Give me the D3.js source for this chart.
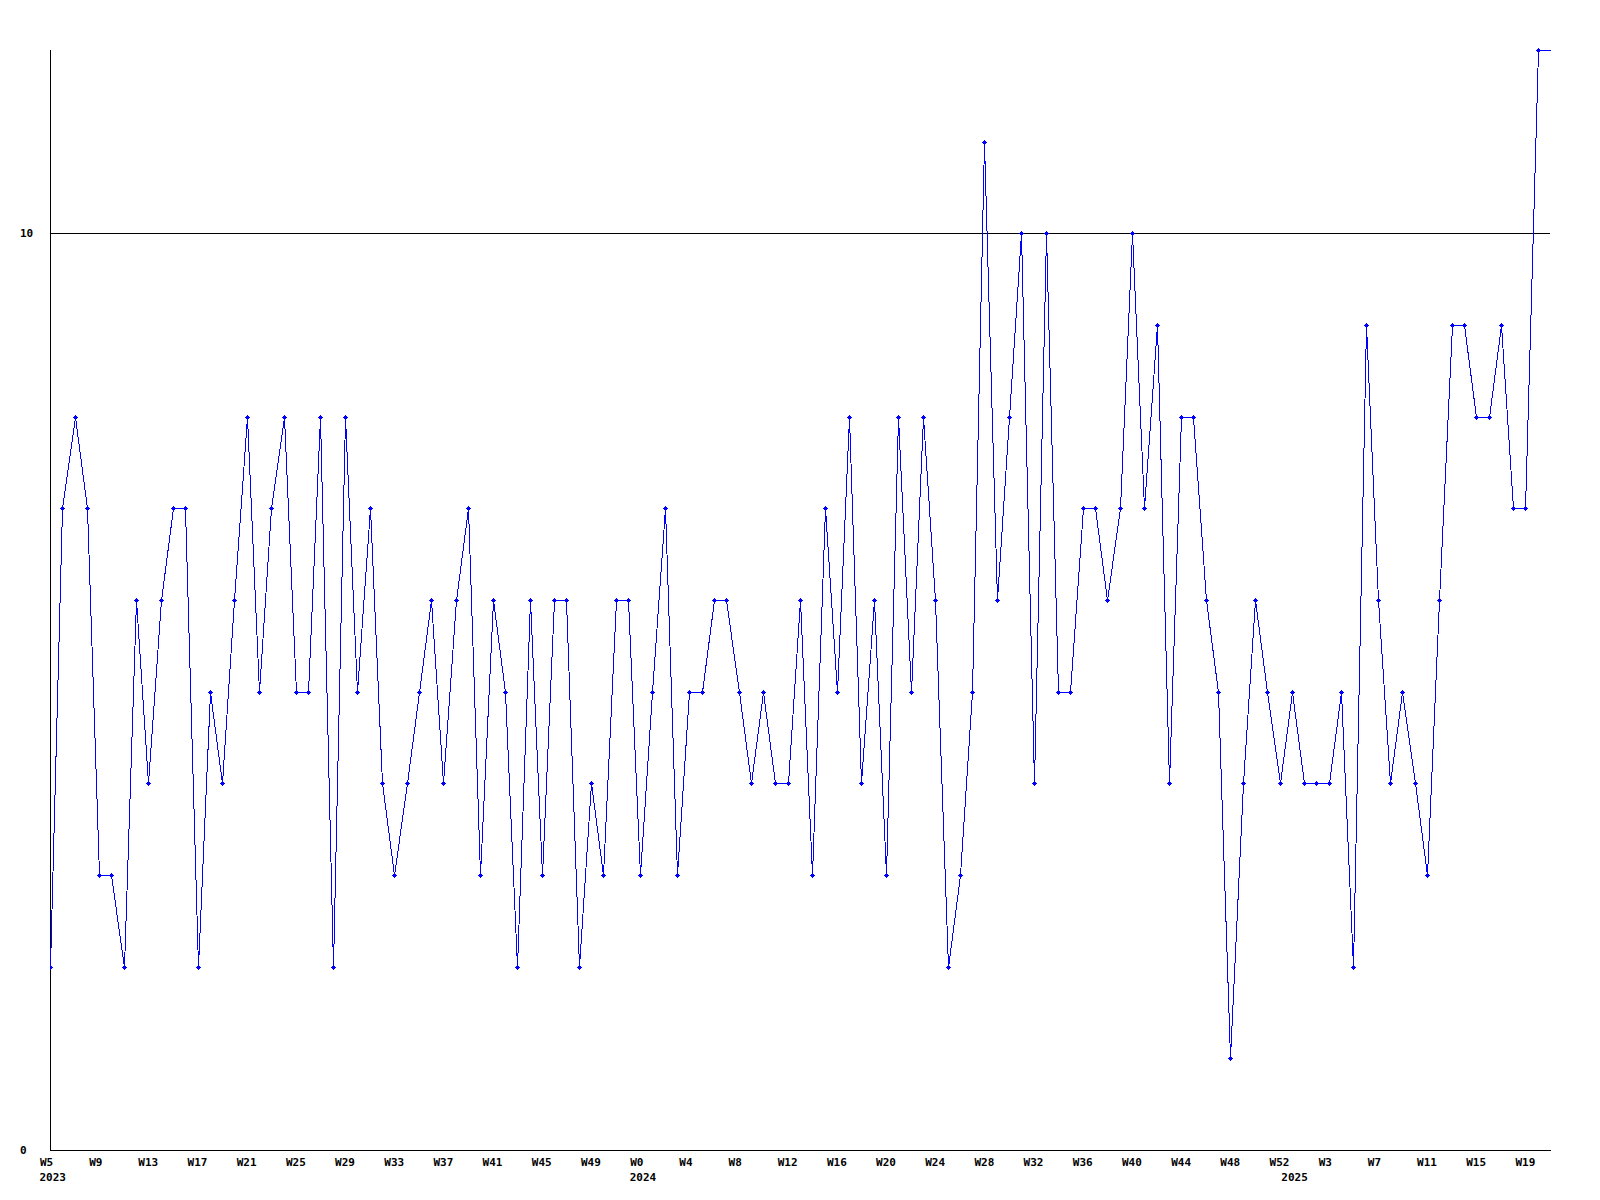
<!DOCTYPE html>
<html>
<head>
<meta charset="utf-8">
<script src="https://cdn.jsdelivr.net/npm/d3@7"></script>
<style>
  html, body { margin: 0; padding: 0; background: #ffffff; }
  svg { display: block; }
  text { font-family: "DejaVu Sans Mono", "Liberation Mono", monospace; font-weight: bold; font-size: 11px; fill: #000; }
</style>
</head>
<body>
<svg id="chart" width="1600" height="1200"></svg>
<script>
// ---- data ----
const years = [2023, 2024, 2025];
const weeks2023 = d3.range(5, 53);   // W5 .. W52
const weeks2024 = d3.range(0, 53);   // W0 .. W52
const weeks2025 = d3.range(0, 22);   // W0 .. W21
const values2023 = [2,7,8,7,3,3,2,6,4,6,7,7,2,5,4,6,8,5,7,8,5,5,8,2,8,5,7,4,3,4,5,6,4,6,7,3,6,5,2,6,3,6,6,2,4,3,6,6];
const values2024 = [3,5,7,3,5,5,6,6,5,4,5,4,4,6,3,7,5,8,4,6,3,8,5,8,6,2,3,5,11,6,8,10,4,10,5,5,7,7,6,7,10,7,9,4,8,8,6,5,1,4,6,5,4];
const values2025 = [5,4,4,4,5,2,9,6,4,5,4,3,6,9,9,8,8,9,7,7,12,12];
const yTicks = [0, 10];
const yDomain = [0, 12];
const tickEvery = 4;

(function () {
// build table
const weeksByYear = [weeks2023, weeks2024, weeks2025];
const valuesByYear = [values2023, values2024, values2025];
const data = [];
years.forEach((yr, i) => {
  weeksByYear[i].forEach((w, j) => {
    data.push({ key: yr + "-W" + w, year: yr, week: w, value: valuesByYear[i][j], firstOfYear: j === 0 });
  });
});

// ---- layout ----
const mLeft = 50, mRight = 1550, mTop = 50, mBottom = 1150;
const svg = d3.select("#chart");

const x = d3.scalePoint().domain(data.map(d => d.key)).range([mLeft, mRight]);
const y = d3.scaleLinear().domain(yDomain).range([mBottom, mTop]);

// clip
svg.append("defs").append("clipPath").attr("id", "plotclip")
  .append("rect").attr("x", mLeft).attr("y", mTop - 5).attr("width", mRight - mLeft + 1).attr("height", mBottom - mTop + 10);

// gridline at 10 (and axes)
const g = svg.append("g").attr("shape-rendering", "crispEdges");
yTicks.filter(t => t !== 0).forEach(t => {
  g.append("line").attr("x1", mLeft).attr("x2", mRight)
    .attr("y1", Math.round(y(t)) + 0.5).attr("y2", Math.round(y(t)) + 0.5)
    .attr("stroke", "#000").attr("stroke-width", 1);
});
g.append("line").attr("x1", mLeft + 0.5).attr("x2", mLeft + 0.5).attr("y1", mTop).attr("y2", mBottom + 1)
  .attr("stroke", "#000");
g.append("line").attr("x1", mLeft).attr("x2", mRight + 1).attr("y1", mBottom + 0.5).attr("y2", mBottom + 0.5)
  .attr("stroke", "#000");

// y labels (left aligned)
svg.append("g").selectAll("text").data(yTicks).join("text")
  .attr("x", 20).attr("y", d => y(d) + 4)
  .text(d => d);

// x axis labels via d3 axis
const tickKeys = data.filter((d, i) => i % tickEvery === 0).map(d => d.key);
const byKey = new Map(data.map(d => [d.key, d]));
const xAxis = d3.axisBottom(x).tickValues(tickKeys).tickSize(0).tickPadding(0)
  .tickFormat(k => "W" + byKey.get(k).week);
const ax = svg.append("g").attr("transform", `translate(0,${mBottom})`).call(xAxis);
ax.select(".domain").remove();
ax.selectAll("text")
  .attr("text-anchor", "start").attr("dx", -10.5).attr("dy", 0).attr("y", 16)
  .style("font-family", "'DejaVu Sans Mono', monospace").style("font-size", "11px").style("font-weight", "bold").style("fill", "#000");

// year labels
svg.append("g").selectAll("text").data(data.filter(d => d.firstOfYear)).join("text")
  .attr("x", d => x(d.key) - 10.5).attr("y", 1181)
  .text(d => d.year);

// line
const plot = svg.append("g").attr("clip-path", "url(#plotclip)");
const line = d3.line().x(d => Math.round(x(d.key)) + 0.5).y(d => Math.round(y(d.value)) + 0.5);
plot.append("path").datum(data).attr("d", line)
  .attr("fill", "none").attr("stroke", "#0000ff").attr("stroke-width", 1)
  .attr("shape-rendering", "crispEdges");

// markers (small plus shapes); none on the plot's right edge
const mk = plot.append("g").attr("fill", "#0000ff").attr("shape-rendering", "crispEdges");
mk.selectAll("g").data(data.filter(d => x(d.key) < mRight - 1)).join("g")
  .attr("transform", d => `translate(${Math.round(x(d.key))},${Math.round(y(d.value))})`)
  .each(function () {
    const s = d3.select(this);
    s.append("rect").attr("x", -2).attr("y", 0).attr("width", 5).attr("height", 1);
    s.append("rect").attr("x", 0).attr("y", -2).attr("width", 1).attr("height", 5);
    s.append("rect").attr("x", -1).attr("y", -1).attr("width", 3).attr("height", 3);
  });
})();
</script>
</body>
</html>
